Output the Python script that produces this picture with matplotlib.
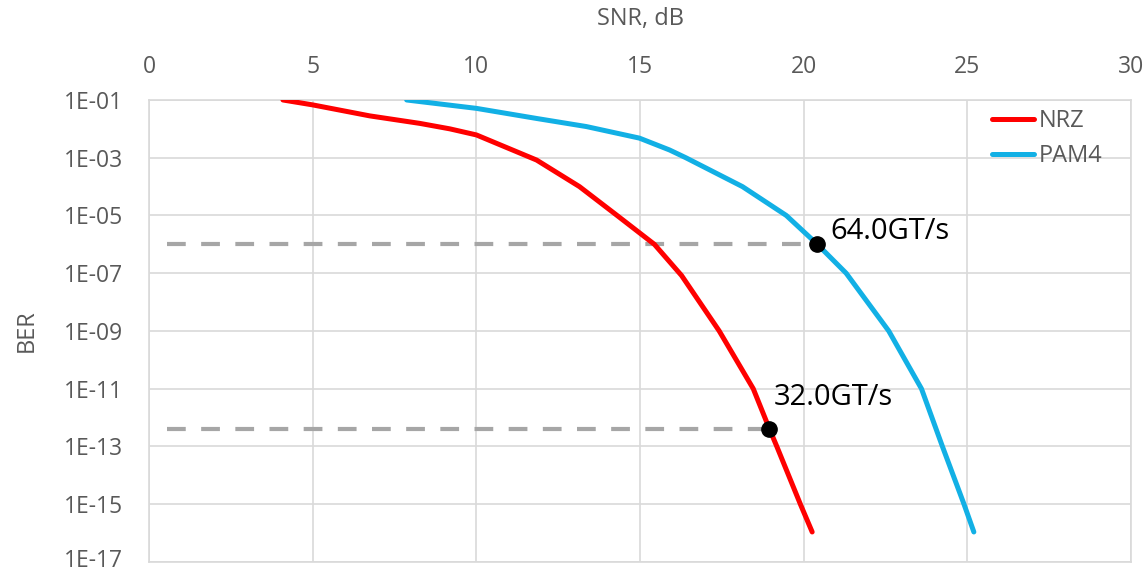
import numpy as np
import matplotlib.pyplot as plt
import matplotlib.transforms as mtransforms

# Données (SNR en dB, exposant décimal du BER)
nrz_snr = [4.09, 5.0, 6.74, 8.27, 9.19, 10.0, 11.84, 13.15, 14.3, 15.44, 16.27,
           17.42, 18.46, 18.95, 19.18, 19.9, 20.26]
nrz_exp = [-1.0, -1.17, -1.55, -1.81, -2.0, -2.21, -3.08, -4.0, -5.0, -6.0, -7.08,
           -9.0, -11.0, -12.38, -13.0, -15.0, -15.96]

pam4_snr = [7.87, 10.0, 11.84, 13.36, 14.98, 15.9, 16.4, 18.13, 19.47, 20.42, 21.3,
            22.6, 23.6, 24.24, 24.9, 25.2]
pam4_exp = [-1.0, -1.29, -1.64, -1.92, -2.32, -2.73, -3.0, -4.0, -5.0, -6.0, -7.0,
            -9.0, -11.0, -13.0, -15.0, -15.96]

# Points de fonctionnement
op_labels = ['64.0GT/s', '32.0GT/s']
op_snr = [20.42, 18.95]
op_exp = [-6.0, -12.38]
dash_start = 0.55

y_ticks = [1e-1, 1e-3, 1e-5, 1e-7, 1e-9, 1e-11, 1e-13, 1e-15, 1e-17]
y_ticklabels = ['1E-01', '1E-03', '1E-05', '1E-07', '1E-09', '1E-11', '1E-13', '1E-15', '1E-17']

plt.rcParams['font.family'] = ['Open Sans', 'DejaVu Sans']

fig = plt.figure(figsize=(11.47, 5.73), dpi=100)
ax = fig.add_axes([0.130, 0.0192, 0.856, 0.8063])

grid_c = '#d9d9d9'
text_c = '#595959'

# Lignes pointillées horizontales
for s, e in zip(op_snr, op_exp):
    ax.plot([dash_start, s], [10.0**e, 10.0**e], color='#a6a6a6', lw=3,
            dashes=(4.5, 3.7), zorder=2)

ax.plot(nrz_snr, 10.0**np.array(nrz_exp), color='#ff0000', lw=3.6,
        label='NRZ', solid_capstyle='round', solid_joinstyle='round', zorder=3)
ax.plot(pam4_snr, 10.0**np.array(pam4_exp), color='#12b0e5', lw=3.6,
        label='PAM4', solid_capstyle='round', solid_joinstyle='round', zorder=3)

ax.plot(op_snr, 10.0**np.array(op_exp), 'o', color='black', ms=11, zorder=4)
ax.annotate(op_labels[0], (op_snr[0], 10.0**op_exp[0]), xytext=(9, 4),
            textcoords='offset points', fontsize=21, color='black')
ax.annotate(op_labels[1], (op_snr[1], 10.0**op_exp[1]), xytext=(3, 17),
            textcoords='offset points', fontsize=21, color='black')

ax.set_yscale('log')
ax.set_xlim(0, 30)
ax.set_ylim(1e-17, 1e-1)
ax.set_yticks(y_ticks)
ax.set_yticklabels(y_ticklabels)
ax.minorticks_off()
ax.set_xticks([0, 5, 10, 15, 20, 25, 30])

ax.xaxis.tick_top()
ax.xaxis.set_label_position('top')
ax.set_xlabel('SNR, dB', fontsize=17, color=text_c, labelpad=22)
ax.set_ylabel('BER', fontsize=17, color=text_c, labelpad=18)
ax.tick_params(axis='both', length=0, labelsize=16.5, labelcolor=text_c)
ax.tick_params(axis='x', pad=15)
ax.tick_params(axis='y', pad=19)

# remonter légèrement le dernier label pour qu'il ne soit pas coupé
last = ax.get_yticklabels()[-1]
last.set_transform(last.get_transform() +
                   mtransforms.ScaledTranslation(0, 3 / 72, fig.dpi_scale_trans))

ax.grid(True, color=grid_c, lw=1.2)
ax.set_axisbelow(True)
for sp in ax.spines.values():
    sp.set_color(grid_c)
    sp.set_linewidth(1.2)

leg = ax.legend(loc='upper right', frameon=False, fontsize=17, handlelength=1.8,
                handletextpad=0.2, borderaxespad=0.0, labelspacing=0.45,
                bbox_to_anchor=(0.981, 1.0))
for t in leg.get_texts():
    t.set_color(text_c)

plt.savefig('out.png', dpi=100)
